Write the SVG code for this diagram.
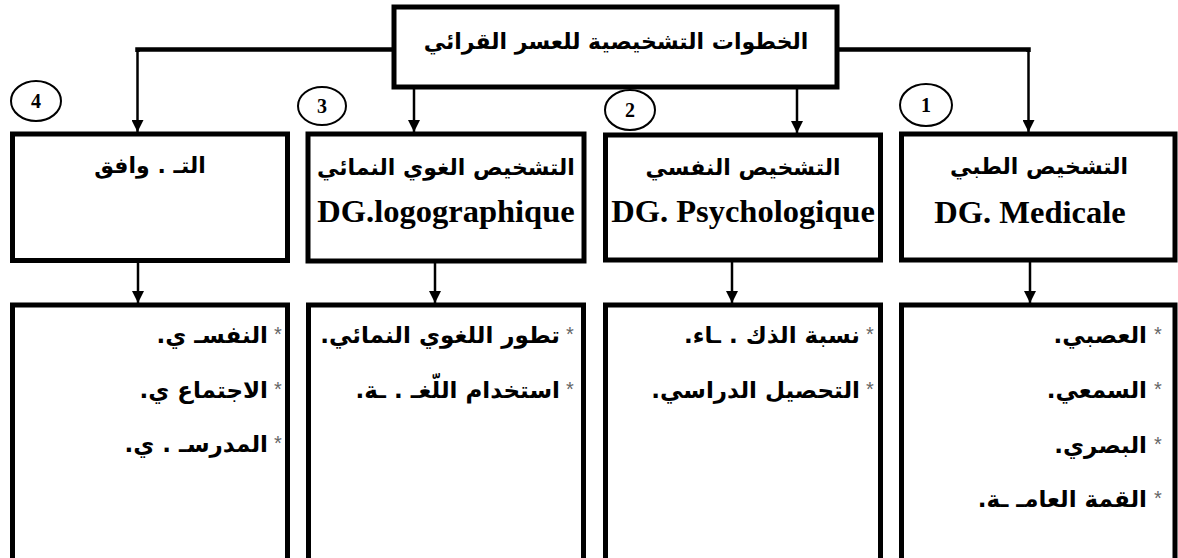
<svg xmlns="http://www.w3.org/2000/svg" width="1178" height="558" viewBox="0 0 1178 558">
<style>
.box{fill:#fff;stroke:#000;stroke-width:5}
.wire{fill:none;stroke:#000;stroke-width:4.5}
.arr{fill:none;stroke:#000;stroke-width:2.5}
.num{fill:#fff;stroke:#000;stroke-width:2}
.ntx{font-family:"Liberation Serif",serif;font-weight:bold;font-size:20px;text-anchor:middle}
.ar{font-family:"DejaVu Sans","Noto Sans",sans-serif;font-weight:bold;direction:rtl}
.h{font-size:22px;text-anchor:middle}
.t{font-size:23px;text-anchor:start}
.lat{font-family:"Liberation Serif",serif;font-weight:bold;font-size:32.5px;text-anchor:middle}
.ast{font-family:"Liberation Sans",sans-serif;font-size:20px;fill:#666;text-anchor:middle}
</style>
<defs>
<marker id="ah" markerWidth="12" markerHeight="12" refX="12" refY="6" orient="auto" markerUnits="userSpaceOnUse">
<path d="M0,0 L12,6 L0,12 Z" fill="#000"/>
</marker>
</defs>
<g id="connectors">
<polyline class="wire" points="392,49.5 137.5,49.5 137.5,52"/>
<polyline class="wire" points="839,49.5 1028.5,49.5 1028.5,52"/>
<line class="arr" x1="137.5" y1="50" x2="137.5" y2="132" marker-end="url(#ah)"/>
<line class="arr" x1="1028.5" y1="50" x2="1028.5" y2="132" marker-end="url(#ah)"/>
<line class="arr" x1="414" y1="89" x2="414" y2="132" marker-end="url(#ah)"/>
<line class="arr" x1="797" y1="89" x2="797" y2="133" marker-end="url(#ah)"/>
<line class="arr" x1="138" y1="262" x2="138" y2="303" marker-end="url(#ah)"/>
<line class="arr" x1="435" y1="263" x2="435" y2="303" marker-end="url(#ah)"/>
<line class="arr" x1="732" y1="262" x2="732" y2="303" marker-end="url(#ah)"/>
<line class="arr" x1="1030" y1="262" x2="1030" y2="303" marker-end="url(#ah)"/>
</g>
<g id="root">
<rect class="box" x="394" y="7" width="443" height="80" stroke-width="4.5"/>
<text class="ar h" x="616" y="49">الخطوات التشخيصية للعسر القرائي</text>
</g>
<g id="num4"><ellipse class="num" cx="36" cy="101" rx="25" ry="20"/><text class="ntx" x="36" y="108">4</text></g>
<g id="num3"><ellipse class="num" cx="322" cy="106" rx="24" ry="19"/><text class="ntx" x="322" y="113">3</text></g>
<g id="num2"><ellipse class="num" cx="630" cy="110" rx="25" ry="20"/><text class="ntx" x="630" y="117">2</text></g>
<g id="num1"><ellipse class="num" cx="926" cy="105" rx="26" ry="21"/><text class="ntx" x="926" y="112">1</text></g>
<g id="box4">
<rect class="box" x="12.5" y="134" width="275" height="126.5"/>
<text class="ar h" x="150" y="173">التـ . وافق</text>
</g>
<g id="box3">
<rect class="box" x="308" y="134" width="276" height="127"/>
<text class="ar h" x="446" y="175">التشخيص الغوي النمائي</text>
<text class="lat" x="446" y="222">DG.logographique</text>
</g>
<g id="box2">
<rect class="box" x="605.5" y="135" width="275" height="125"/>
<text class="ar h" x="743" y="175">التشخيص النفسي</text>
<text class="lat" x="743" y="222">DG. Psychologique</text>
</g>
<g id="box1">
<rect class="box" x="901.5" y="134" width="273.5" height="126"/>
<text class="ar h" x="1039" y="174">التشخيص الطبي</text>
<text class="lat" x="1030" y="223">DG. Medicale</text>
</g>
<g id="list4">
<rect class="box" x="12.5" y="305" width="275" height="265"/>
<text class="ast" x="278" y="341">*</text>
<text class="ar t" x="268" y="343">النفسـ ي.</text>
<text class="ast" x="278" y="396">*</text>
<text class="ar t" x="268" y="398">الاجتماع ي.</text>
<text class="ast" x="278" y="450">*</text>
<text class="ar t" x="268" y="452">المدرسـ . ي.</text>
</g>
<g id="list3">
<rect class="box" x="308.5" y="305" width="275" height="265"/>
<text class="ast" x="570" y="341">*</text>
<text class="ar t" x="560" y="343">تطور اللغوي النمائي.</text>
<text class="ast" x="570" y="396">*</text>
<text class="ar t" x="560" y="398">استخدام اللّغـ . ـة.</text>
</g>
<g id="list2">
<rect class="box" x="605.5" y="305" width="275" height="265"/>
<text class="ast" x="870" y="341">*</text>
<text class="ar t" x="860" y="343">نسبة الذك . ـاء.</text>
<text class="ast" x="870" y="396">*</text>
<text class="ar t" x="860" y="398">التحصيل الدراسي.</text>
</g>
<g id="list1">
<rect class="box" x="901.5" y="305" width="273.5" height="265"/>
<text class="ast" x="1158" y="341">*</text>
<text class="ar t" x="1147" y="343">العصبي.</text>
<text class="ast" x="1158" y="396">*</text>
<text class="ar t" x="1147" y="398">السمعي.</text>
<text class="ast" x="1158" y="451">*</text>
<text class="ar t" x="1147" y="453">البصري.</text>
<text class="ast" x="1158" y="505">*</text>
<text class="ar t" x="1147" y="507">القمة العامـ ـة.</text>
</g>
</svg>
